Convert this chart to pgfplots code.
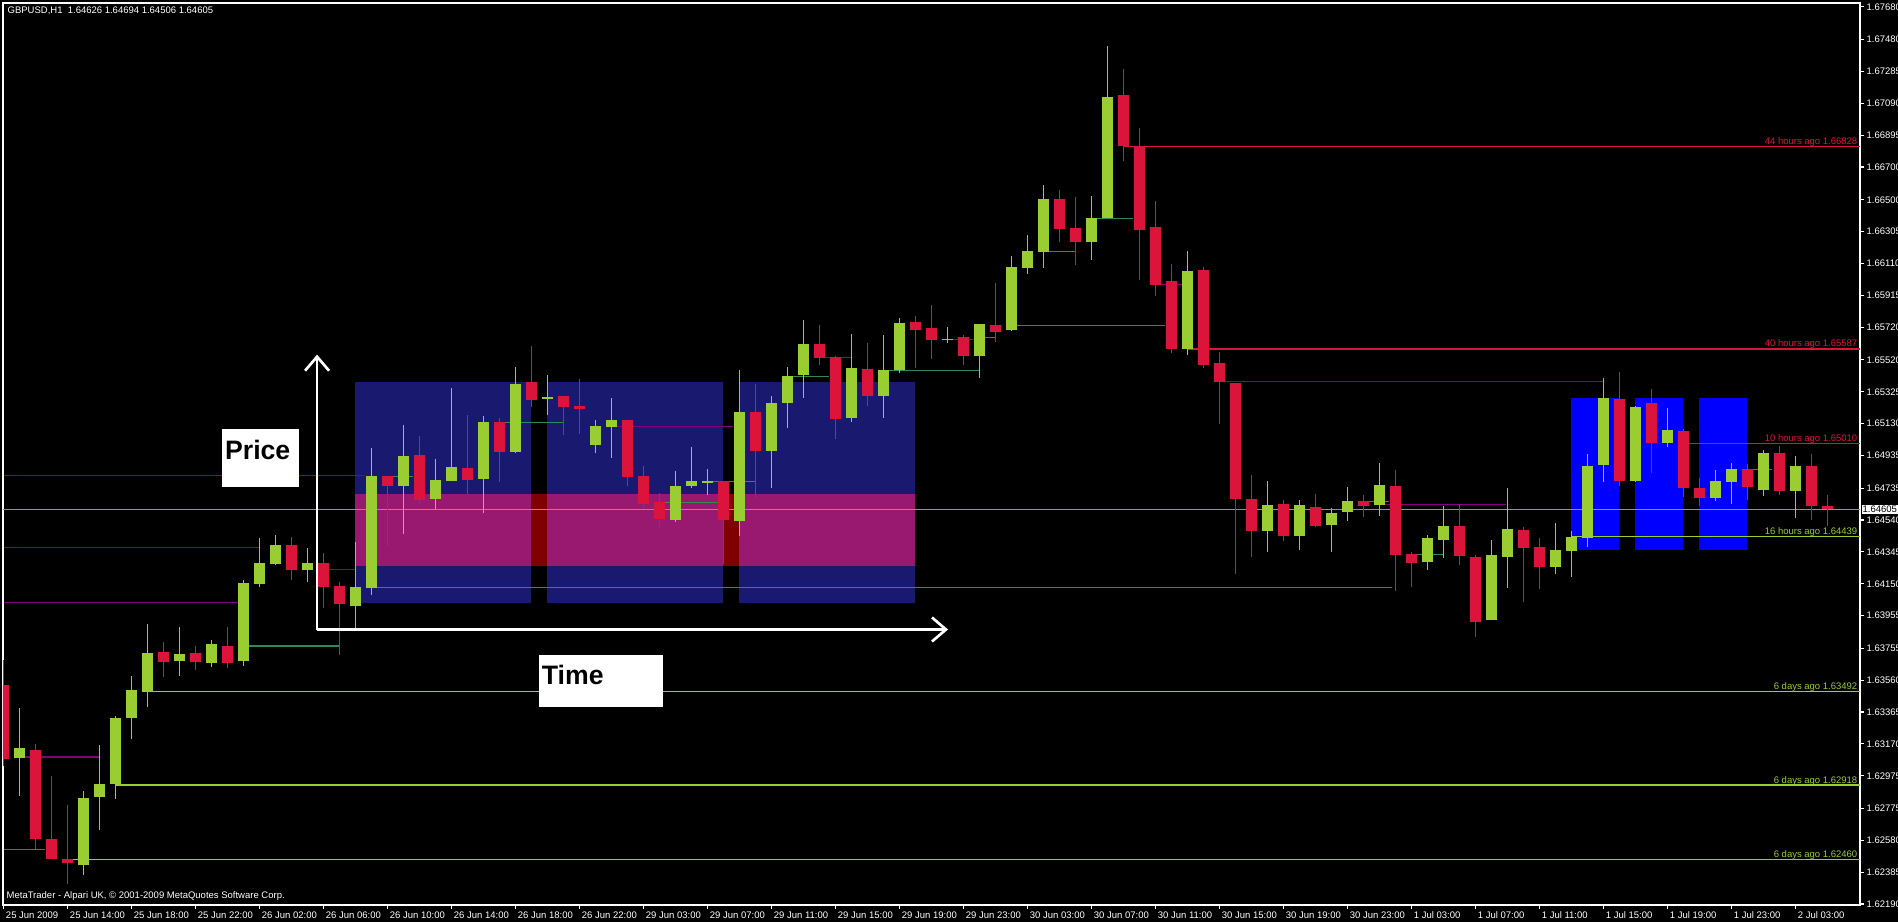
\documentclass[border=0pt]{standalone}
\usepackage{fontspec}
\setmainfont{Liberation Sans}
\usepackage{pgfplots}
\usepackage{pgfplotstable}
\pgfplotsset{compat=1.18}
\usetikzlibrary{arrows.meta}

\definecolor{bull}{RGB}{154,205,50}
\definecolor{bear}{RGB}{220,20,60}
\definecolor{navybox}{RGB}{25,25,112}
\definecolor{xorbox}{RGB}{153,25,112}
\definecolor{maroonbox}{RGB}{128,0,0}
\definecolor{lvlpurple}{RGB}{128,0,128}
\definecolor{lvlgreen}{RGB}{46,139,87}
\definecolor{curprice}{RGB}{140,145,155}
\newcommand\mt{\fontsize{2.85}{3.4}\selectfont}

% GBPUSD H1 candles, x = bar number from 25 Jun 10:00
\pgfplotstableread{
i o h l c
1 1.63086 1.63390 1.62853 1.63145
5 1.62429 1.62882 1.62368 1.62839
6 1.62845 1.63163 1.62643 1.62925
7 1.62923 1.63339 1.62833 1.63329
8 1.63329 1.63586 1.63200 1.63500
9 1.63488 1.63904 1.63396 1.63726
11 1.63678 1.63886 1.63586 1.63720
13 1.63665 1.63806 1.63641 1.63782
15 1.63678 1.64173 1.63647 1.64155
16 1.64149 1.64430 1.64130 1.64277
17 1.64271 1.64449 1.64265 1.64387
19 1.64234 1.64369 1.64161 1.64277
22 1.64014 1.64406 1.63879 1.64130
23 1.64124 1.64981 1.64081 1.64810
25 1.64749 1.65122 1.64455 1.64932
27 1.64669 1.64914 1.64608 1.64785
28 1.64779 1.65348 1.64779 1.64865
30 1.64791 1.65177 1.64583 1.65140
32 1.64957 1.65477 1.64950 1.65373
34 1.65281 1.65428 1.65183 1.65293
37 1.64999 1.65152 1.64950 1.65116
38 1.65110 1.65287 1.64920 1.65152
42 1.64540 1.64840 1.64528 1.64749
43 1.64749 1.64987 1.64736 1.64779
44 1.64767 1.64853 1.64693 1.64779
46 1.64534 1.65458 1.64443 1.65201
48 1.64963 1.65299 1.64736 1.65256
49 1.65256 1.65477 1.65103 1.65422
50 1.65428 1.65764 1.65287 1.65618
53 1.65165 1.65679 1.65140 1.65471
55 1.65299 1.65673 1.65165 1.65458
56 1.65458 1.65777 1.65440 1.65746
59 1.65642 1.65722 1.65624 1.65648
61 1.65544 1.65740 1.65409 1.65740
63 1.65703 1.66156 1.65697 1.66089
64 1.66083 1.66285 1.66046 1.66187
65 1.66181 1.66591 1.66083 1.66505
68 1.66242 1.66523 1.66132 1.66389
69 1.66389 1.67441 1.66389 1.67129
74 1.65587 1.66187 1.65550 1.66064
79 1.64473 1.64779 1.64345 1.64632
81 1.64443 1.64663 1.64357 1.64632
83 1.64510 1.64614 1.64345 1.64583
84 1.64589 1.64742 1.64534 1.64657
86 1.64632 1.64889 1.64565 1.64755
89 1.64283 1.64449 1.64234 1.64430
90 1.64418 1.64626 1.64308 1.64504
93 1.63928 1.64418 1.63928 1.64326
94 1.64314 1.64736 1.64124 1.64485
97 1.64253 1.64522 1.64210 1.64357
98 1.64351 1.64473 1.64192 1.64439
99 1.64430 1.64944 1.64375 1.64871
100 1.64877 1.65409 1.64773 1.65287
102 1.64779 1.65238 1.64773 1.65232
104 1.65010 1.65226 1.64987 1.65091
107 1.64675 1.64846 1.64657 1.64779
108 1.64773 1.64889 1.64638 1.64853
110 1.64724 1.64969 1.64687 1.64950
112 1.64718 1.64932 1.64553 1.64871
}\bulltab

\pgfplotstableread{
i o h l c
0 1.63531 1.63684 1.63037 1.63078
2 1.63133 1.63170 1.62525 1.62588
3 1.62588 1.62976 1.62466 1.62466
4 1.62466 1.62796 1.62313 1.62441
10 1.63733 1.63794 1.63580 1.63671
12 1.63726 1.63769 1.63622 1.63671
14 1.63769 1.63886 1.63635 1.63665
18 1.64387 1.64436 1.64173 1.64234
20 1.64277 1.64338 1.64002 1.64130
21 1.64137 1.64161 1.63714 1.64026
24 1.64810 1.64810 1.64381 1.64749
26 1.64938 1.65054 1.64638 1.64663
29 1.64859 1.65183 1.64700 1.64785
31 1.65140 1.65165 1.64773 1.64957
33 1.65385 1.65605 1.65232 1.65275
35 1.65299 1.65299 1.65061 1.65232
36 1.65238 1.65403 1.65067 1.65220
39 1.65152 1.65152 1.64749 1.64804
40 1.64810 1.64871 1.64614 1.64638
41 1.64651 1.64706 1.64498 1.64547
45 1.64779 1.64779 1.64271 1.64540
47 1.65201 1.65373 1.64675 1.64963
51 1.65618 1.65734 1.65489 1.65532
52 1.65538 1.65544 1.65036 1.65159
54 1.65465 1.65624 1.65238 1.65299
57 1.65752 1.65789 1.65471 1.65703
58 1.65715 1.65856 1.65526 1.65642
60 1.65660 1.65673 1.65489 1.65544
62 1.65734 1.65991 1.65630 1.65691
66 1.66505 1.66560 1.66242 1.66321
67 1.66327 1.66517 1.66101 1.66242
70 1.67141 1.67301 1.66738 1.66828
71 1.66828 1.66939 1.66009 1.66315
72 1.66334 1.66493 1.65911 1.65979
73 1.66003 1.66107 1.65562 1.65587
75 1.66070 1.66089 1.65471 1.65489
76 1.65501 1.65569 1.65128 1.65385
77 1.65379 1.65379 1.64212 1.64669
78 1.64669 1.64816 1.64314 1.64473
80 1.64638 1.64663 1.64412 1.64443
82 1.64620 1.64700 1.64498 1.64504
85 1.64657 1.64693 1.64559 1.64626
87 1.64749 1.64846 1.64106 1.64326
88 1.64332 1.64345 1.64130 1.64277
91 1.64504 1.64638 1.64265 1.64320
92 1.64314 1.64326 1.63824 1.63916
95 1.64479 1.64498 1.64039 1.64369
96 1.64375 1.64430 1.64118 1.64253
101 1.65281 1.65446 1.64749 1.64779
103 1.65256 1.65342 1.64828 1.65010
105 1.65085 1.65097 1.64681 1.64736
106 1.64736 1.64797 1.64626 1.64675
109 1.64853 1.64883 1.64663 1.64742
111 1.64950 1.64993 1.64693 1.64718
113 1.64871 1.64944 1.64540 1.64626
114 1.64626 1.64694 1.64506 1.64605
}\beartab

\begin{document}
\begin{tikzpicture}
\fill[black] (0,0) rectangle (569.4pt,276.6pt);
\begin{axis}[
  at={(0.9pt,5.1pt)}, anchor=south west,
  scale only axis, width=557.1pt, height=270.6pt,
  xmin=-0.04, xmax=116.03, ymin=1.62184, ymax=1.67704,
  clip mode=individual,
  axis line style={white, line width=0.35pt},
  tick style={white, line width=0.35pt},
  major tick length=1.2pt, tick align=outside,
  xtick pos=left, ytick pos=right,
  xticklabel pos=left, yticklabel pos=right,
  xtick={0,4,...,112},
  xticklabels={25 Jun 2009, 25 Jun 14:00, 25 Jun 18:00, 25 Jun 22:00, 26 Jun 02:00, 26 Jun 06:00, 26 Jun 10:00, 26 Jun 14:00, 26 Jun 18:00, 26 Jun 22:00, 29 Jun 03:00, 29 Jun 07:00, 29 Jun 11:00, 29 Jun 15:00, 29 Jun 19:00, 29 Jun 23:00, 30 Jun 03:00, 30 Jun 07:00, 30 Jun 11:00, 30 Jun 15:00, 30 Jun 19:00, 30 Jun 23:00, 1 Jul 03:00, 1 Jul 07:00, 1 Jul 11:00, 1 Jul 15:00, 1 Jul 19:00, 1 Jul 23:00, 2 Jul 03:00},
  ytick={1.67680,1.67480,1.67285,1.67090,1.66895,1.66700,1.66500,1.66305,1.66110,1.65915,1.65720,1.65520,1.65325,1.65130,1.64935,1.64735,1.64540,1.64345,1.64150,1.63955,1.63755,1.63560,1.63365,1.63170,1.62975,1.62775,1.62580,1.62385,1.62190},
  /pgf/number format/assume math mode=true,
  yticklabel style={/pgf/number format/.cd, fixed, fixed zerofill, precision=5, /tikz/.cd},
  scaled y ticks=false,
  tick label style={font=\mt, text=white},
  yticklabel style={anchor=west, inner sep=0pt, xshift=0.6pt},
  xticklabel style={anchor=north west, inner sep=0pt, xshift=0.5pt, yshift=-0.7pt},
  candle/.style={draw=none, no markers, forget plot,
    error bars/.cd, y dir=plus, y explicit, error mark=none},
]
% session boxes
\addplot[fill=navybox, draw=none] coordinates {(21.96,1.64032) (32.96,1.64032) (32.96,1.65385) (21.96,1.65385)} -- cycle;
\addplot[fill=navybox, draw=none] coordinates {(33.96,1.64032) (44.96,1.64032) (44.96,1.65385) (33.96,1.65385)} -- cycle;
\addplot[fill=navybox, draw=none] coordinates {(45.96,1.64032) (56.96,1.64032) (56.96,1.65385) (45.96,1.65385)} -- cycle;
\addplot[fill=maroonbox, draw=none] coordinates {(21.96,1.64259) (56.96,1.64259) (56.96,1.64700) (21.96,1.64700)} -- cycle;
\addplot[fill=xorbox, draw=none] coordinates {(21.96,1.64259) (32.96,1.64259) (32.96,1.64700) (21.96,1.64700)} -- cycle;
\addplot[fill=xorbox, draw=none] coordinates {(33.96,1.64259) (44.96,1.64259) (44.96,1.64700) (33.96,1.64700)} -- cycle;
\addplot[fill=xorbox, draw=none] coordinates {(45.96,1.64259) (56.96,1.64259) (56.96,1.64700) (45.96,1.64700)} -- cycle;
\addplot[fill=blue, draw=none] coordinates {(97.95,1.64357) (100.95,1.64357) (100.95,1.65285) (97.95,1.65285)} -- cycle;
\addplot[fill=blue, draw=none] coordinates {(101.95,1.64357) (104.95,1.64357) (104.95,1.65285) (101.95,1.65285)} -- cycle;
\addplot[fill=blue, draw=none] coordinates {(105.95,1.64357) (108.95,1.64357) (108.95,1.65285) (105.95,1.65285)} -- cycle;

% indicator levels
\addplot[lvlpurple, line width=0.35pt, unbounded coords=jump] coordinates {
 (0,1.64814) (22.6,1.64814) (22.6,nan)
 (0,1.64373) (16,1.64373) (16,nan)
 (0,1.64037) (14.7,1.64037) (14.7,nan)
 (1.3,1.63090) (6,1.63090) (6,nan)
 (19.8,1.64239) (22,1.64239) (22,nan)
 (38.3,1.65114) (45.6,1.65114) (45.6,nan)
 (51.2,1.65536) (53,1.65536) (53,nan)
 (59,1.65646) (60.6,1.65646) (60.6,nan)
 (72.3,1.65983) (73.7,1.65983) (73.7,nan)
 (76.3,1.65389) (100,1.65389) (100,nan)
 (86.3,1.64636) (93.9,1.64636)
};
\addplot[lvlgreen, line width=0.35pt, unbounded coords=jump] coordinates {
 (0,1.62525) (2.6,1.62525) (2.6,nan)
 (15.3,1.63769) (21,1.63769) (21,nan)
 (23.7,1.64808) (25.6,1.64808) (25.6,nan)
 (31.2,1.65138) (35,1.65138) (35,nan)
 (41,1.64649) (44.7,1.64649) (44.7,nan)
 (44.3,1.64777) (47,1.64777) (47,nan)
 (23.3,1.64129) (86.8,1.64129) (86.8,nan)
 (49,1.65420) (51.6,1.65420) (51.6,nan)
 (55.3,1.65457) (61,1.65457) (61,nan)
 (61.1,1.65659) (62,1.65659) (62,nan)
 (63.3,1.65732) (72.6,1.65732) (72.6,nan)
 (65.3,1.66185) (67,1.66185) (67,nan)
 (68.3,1.66387) (70.6,1.66387) (70.6,nan)
 (85,1.64652) (86.6,1.64652) (86.6,nan)
 (88,1.64331) (90,1.64331) (90,nan)
 (109,1.64851) (110.5,1.64851)
};
\addplot[curprice, line width=0.35pt] coordinates {(-0.04,1.64605) (116.03,1.64605)};
\addplot[bear, line width=0.35pt] coordinates {(70,1.66828) (116.03,1.66828)};
\addplot[bear, line width=0.35pt] coordinates {(74,1.65587) (116.03,1.65587)};
\addplot[bear, line width=0.35pt] coordinates {(105,1.65010) (116.03,1.65010)};
\addplot[bull, line width=0.35pt] coordinates {(98,1.64439) (116.03,1.64439)};
\addplot[bull, line width=0.35pt] coordinates {(9,1.63492) (116.03,1.63492)};
\addplot[bull, line width=0.35pt] coordinates {(7,1.62918) (116.03,1.62918)};
\addplot[bull, line width=0.35pt] coordinates {(4,1.62460) (116.03,1.62460)};

% candles: wicks (low to high), then bodies (open to close)
\addplot[candle, error bar style={draw=bull, line width=0.35pt}]
  table[x=i, y=l, y error plus expr={\thisrow{h}-\thisrow{l}}] {\bulltab};
\addplot[candle, error bar style={draw=bear, line width=0.35pt}]
  table[x=i, y=l, y error plus expr={\thisrow{h}-\thisrow{l}}] {\beartab};
\addplot[candle, error bar style={draw=bull, line width=3.3pt}]
  table[x=i, y=o, y error plus expr={max(\thisrow{c}-\thisrow{o},0.00007)}] {\bulltab};
\addplot[candle, error bar style={draw=bear, line width=3.3pt}]
  table[x=i, y=c, y error plus expr={max(\thisrow{o}-\thisrow{c},0.00007)}] {\beartab};

% hand drawn annotations
\addplot[white, line width=0.8pt, -{Straight Barb[length=4.2pt, width=7.2pt]}] coordinates {(19.59,1.63870) (19.59,1.65552)};
\addplot[white, line width=0.8pt, -{Straight Barb[length=4.2pt, width=7.2pt]}] coordinates {(19.59,1.63870) (59.03,1.63870)};
\addplot[fill=white, draw=none] coordinates {(13.62,1.64745) (18.46,1.64745) (18.46,1.65100) (13.62,1.65100)} -- cycle;
\addplot[fill=white, draw=none] coordinates {(33.44,1.63396) (41.24,1.63396) (41.24,1.63714) (33.44,1.63714)} -- cycle;
\node[anchor=west, inner sep=0pt, font=\fontsize{8}{9}\selectfont\bfseries, text=black] at (axis cs:13.8,1.64969) {Price};
\node[anchor=west, inner sep=0pt, font=\fontsize{8}{9}\selectfont\bfseries, text=black] at (axis cs:33.6,1.63589) {Time};

% level captions
\node[anchor=base east, inner sep=0pt, yshift=0.6pt, font=\mt, text=bear] at (axis cs:115.9,1.66828) {44 hours ago 1.66828};
\node[anchor=base east, inner sep=0pt, yshift=0.6pt, font=\mt, text=bear] at (axis cs:115.9,1.65587) {40 hours ago 1.65587};
\node[anchor=base east, inner sep=0pt, yshift=0.6pt, font=\mt, text=bear] at (axis cs:115.9,1.65010) {10 hours ago 1.65010};
\node[anchor=base east, inner sep=0pt, yshift=0.6pt, font=\mt, text=bull] at (axis cs:115.9,1.64439) {16 hours ago 1.64439};
\node[anchor=base east, inner sep=0pt, yshift=0.6pt, font=\mt, text=bull] at (axis cs:115.9,1.63492) {6 days ago 1.63492};
\node[anchor=base east, inner sep=0pt, yshift=0.6pt, font=\mt, text=bull] at (axis cs:115.9,1.62918) {6 days ago 1.62918};
\node[anchor=base east, inner sep=0pt, yshift=0.6pt, font=\mt, text=bull] at (axis cs:115.9,1.62460) {6 days ago 1.62460};

\node[anchor=west, inner sep=0pt, xshift=1.2pt, yshift=-2.4pt, font=\mt, text=white] at (rel axis cs:0,1) {GBPUSD,H1\ \ 1.64626 1.64694 1.64506 1.64605};
\node[anchor=west, inner sep=0pt, xshift=0.9pt, yshift=2.7pt, font=\mt, text=white] at (rel axis cs:0,0) {MetaTrader - Alpari UK, © 2001-2009 MetaQuotes Software Corp.};
\node[anchor=west, fill=white, text=black, inner xsep=0.3pt, inner ysep=0.4pt, xshift=0.3pt, font=\mt] at (axis cs:116.03,1.64605) {1.64605};
\end{axis}
\pgfresetboundingbox
\path[use as bounding box] (0,0) rectangle (569.4pt,276.6pt);
\end{tikzpicture}
\end{document}
